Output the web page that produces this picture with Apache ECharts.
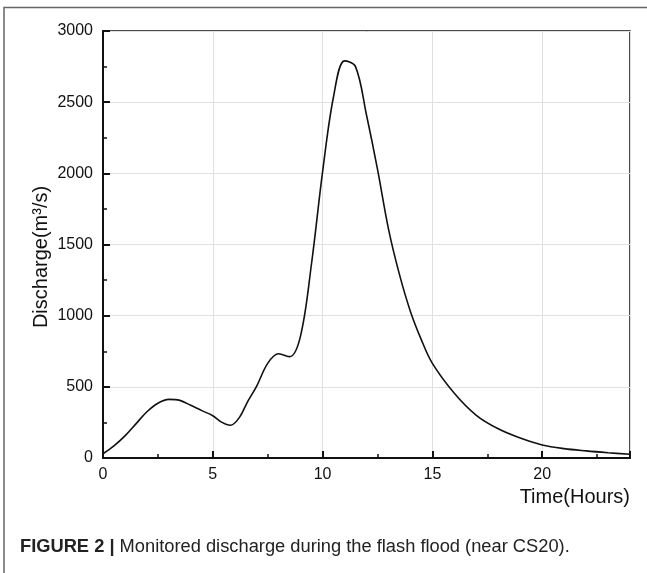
<!DOCTYPE html>
<html>
<head>
<meta charset="utf-8">
<script src="https://cdn.jsdelivr.net/npm/echarts@6/dist/echarts.min.js"></script>
<style>
  html, body { margin: 0; padding: 0; background: #fff; }
  #chart { width: 647px; height: 573px; }
</style>
</head>
<body>
<div id="chart"></div>
<script>
// hours since start of the event
const hours = [0, 0.5, 1, 1.5, 2, 2.5, 3, 3.5, 4, 4.5, 5, 5.4, 5.8, 6.2, 6.6, 7, 7.5, 8, 8.5, 9, 9.5,
  10, 10.5, 11, 11.5, 12, 12.5, 13, 13.5, 14, 14.5, 15, 16, 17, 18, 19, 20, 21, 22, 23, 24];
// monitored discharge, m3/s
const discharge = [30, 85, 155, 240, 325, 385, 412, 405, 370, 333, 297, 252, 230, 282, 400, 505, 665, 732, 712, 860, 1370,
  2010, 2540, 2790, 2750, 2410, 2030, 1610, 1290, 1030, 830, 665, 455, 300, 205, 140, 92, 66, 50, 37, 26];

const xTicks = [0, 5, 10, 15, 20];
const yTicks = [0, 500, 1000, 1500, 2000, 2500, 3000];

const points = hours.map((h, i) => [h, discharge[i]]);

const chart = echarts.init(document.getElementById('chart'));
chart.setOption({
  animation: false,
  grid: {
    left: 103,
    right: 17,
    top: 31,
    bottom: 115,
    show: true,
    borderColor: '#111',
    borderWidth: 1.5,
  },
  xAxis: {
    type: 'value',
    min: 0,
    max: 24,
    interval: 5,
    axisLine: { lineStyle: { color: '#111', width: 2 } },
    axisTick: { inside: true, length: 7, lineStyle: { color: '#111', width: 2 } },
    minorTick: { show: true, splitNumber: 2, length: 4, lineStyle: { color: '#111', width: 1.5 } },
    splitLine: { show: true, lineStyle: { color: '#e0e0e0', width: 1 } },
    axisLabel: {
      color: '#111',
      fontFamily: 'Liberation Sans',
      fontSize: 16,
      margin: 9,
      showMaxLabel: false,
      formatter: v => (xTicks.includes(v) ? String(v) : ''),
    },
  },
  yAxis: {
    type: 'value',
    min: 0,
    max: 3000,
    interval: 500,
    name: 'Discharge(m³/s)',
    nameLocation: 'middle',
    nameGap: 52,
    nameMoveOverlap: false,
    nameTextStyle: { color: '#111', fontFamily: 'Liberation Sans', fontSize: 20, padding: [0, 0, 0, -25] },
    axisLine: { show: true, lineStyle: { color: '#111', width: 2 } },
    axisTick: { show: true, inside: true, length: 7, lineStyle: { color: '#111', width: 2 } },
    minorTick: { show: true, splitNumber: 2, length: 4, lineStyle: { color: '#111', width: 1.5 } },
    splitLine: { show: true, lineStyle: { color: '#e0e0e0', width: 1 } },
    axisLabel: {
      color: '#111',
      fontFamily: 'Liberation Sans',
      fontSize: 16,
      margin: 10,
      formatter: v => (yTicks.includes(v) ? String(v) : ''),
    },
  },
  series: [
    {
      type: 'line',
      data: points,
      smooth: 0.35,
      showSymbol: false,
      lineStyle: { color: '#111', width: 1.6 },
    },
  ],
  graphic: [
    {
      type: 'polyline',
      shape: { points: [[4, 573], [4, 7.5], [647, 7.5]] },
      style: { stroke: '#666', lineWidth: 1.5, fill: null },
    },
    {
      type: 'text',
      right: 17,
      top: 487,
      style: { text: 'Time(Hours)', fill: '#111', font: '20px "Liberation Sans"' },
    },
    {
      type: 'text',
      left: 20,
      top: 538,
      style: {
        text: '{b|FIGURE 2 |} Monitored discharge during the flash flood (near CS20).',
        fill: '#222',
        font: '18.3px "Liberation Sans"',
        rich: {
          b: { fontWeight: 'bold', fontSize: 18.3, fontFamily: 'Liberation Sans', fill: '#222' },
        },
      },
    },
  ],
});
</script>
</body>
</html>
